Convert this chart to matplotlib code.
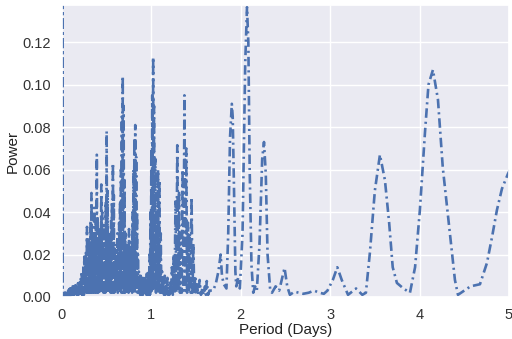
import matplotlib
matplotlib.use("Agg")
import matplotlib.pyplot as plt
import seaborn as sns

# ---- data (period in days, power) ----
# dense, short-period part: alternating local maxima / minima
short_period = [
    0.001, 0.0015, 0.002, 0.0025, 0.003, 0.0035, 0.004, 0.0045,
    0.010, 0.015, 0.020, 0.025, 0.030, 0.035, 0.040, 0.045, 0.050, 0.055,
    0.060, 0.065, 0.070, 0.075, 0.080, 0.085, 0.090, 0.095, 0.100, 0.105,
    0.110, 0.115, 0.120, 0.125, 0.130, 0.135, 0.140, 0.145, 0.150, 0.155,
    0.160, 0.165, 0.170, 0.175, 0.180, 0.185, 0.190, 0.195,
]
short_power = [
    0.150, 0.0, 0.147, 0.0, 0.153, 0.0, 0.149, 0.0,
    0.001, 0.0, 0.0015, 0.0, 0.002, 0.0, 0.002, 0.0, 0.0025, 0.0,
    0.003, 0.0005, 0.003, 0.0005, 0.0035, 0.0005, 0.004, 0.0005, 0.004, 0.001,
    0.0045, 0.001, 0.005, 0.001, 0.005, 0.001, 0.0055, 0.001, 0.0055, 0.001,
    0.006, 0.001, 0.006, 0.001, 0.0065, 0.001, 0.007, 0.001,
]

dense_period = [
    0.200, 0.205, 0.210, 0.215, 0.220, 0.225, 0.230, 0.235, 0.240, 0.245,
    0.250, 0.255, 0.260, 0.265, 0.270, 0.275, 0.280, 0.285, 0.290, 0.295,
    0.300, 0.305, 0.310, 0.315, 0.320, 0.325, 0.330, 0.335, 0.340, 0.345,
    0.350, 0.355, 0.360, 0.365, 0.370, 0.375, 0.380, 0.385, 0.390, 0.395,
    0.400, 0.405, 0.410, 0.415, 0.420, 0.425, 0.430, 0.435, 0.440, 0.445,
    0.450, 0.455, 0.460, 0.465, 0.470, 0.475, 0.480, 0.485, 0.490, 0.495,
    0.500, 0.505, 0.510, 0.515, 0.520, 0.525, 0.530, 0.535, 0.540, 0.545,
    0.550, 0.555, 0.560, 0.565, 0.570, 0.575, 0.580, 0.585, 0.590, 0.595,
    0.600, 0.605, 0.610, 0.615, 0.620, 0.625, 0.630, 0.635, 0.640, 0.645,
    0.650, 0.655, 0.660, 0.665, 0.670, 0.675, 0.680, 0.685, 0.690, 0.695,
    0.700, 0.705, 0.710, 0.715, 0.720, 0.725, 0.730, 0.735, 0.740, 0.745,
    0.750, 0.755, 0.760, 0.765, 0.770, 0.775, 0.780, 0.785, 0.790, 0.795,
    0.800, 0.805, 0.810, 0.815, 0.820, 0.825, 0.830, 0.835, 0.840, 0.845,
    0.850, 0.855, 0.860, 0.865, 0.870, 0.875, 0.880, 0.885, 0.890, 0.895,
    0.900, 0.905, 0.910, 0.915, 0.920, 0.925, 0.930, 0.935, 0.940, 0.945,
    0.950, 0.955, 0.960, 0.965, 0.970, 0.975, 0.980, 0.985, 0.990, 0.995,
]
dense_power = [
    0.007, 0.001, 0.009, 0.001, 0.012, 0.001, 0.010, 0.001, 0.015, 0.001,
    0.019, 0.002, 0.014, 0.001, 0.022, 0.002, 0.033, 0.002, 0.020, 0.002,
    0.028, 0.002, 0.024, 0.003, 0.036, 0.002, 0.049, 0.003, 0.030, 0.002,
    0.026, 0.003, 0.042, 0.002, 0.028, 0.003, 0.035, 0.002, 0.067, 0.003,
    0.038, 0.002, 0.025, 0.003, 0.033, 0.002, 0.030, 0.003, 0.053, 0.002,
    0.040, 0.003, 0.026, 0.002, 0.034, 0.003, 0.022, 0.002, 0.045, 0.003,
    0.078, 0.002, 0.050, 0.003, 0.024, 0.002, 0.030, 0.003, 0.020, 0.002,
    0.036, 0.003, 0.045, 0.002, 0.063, 0.003, 0.048, 0.002, 0.025, 0.003,
    0.018, 0.002, 0.022, 0.003, 0.030, 0.002, 0.026, 0.003, 0.035, 0.002,
    0.045, 0.003, 0.060, 0.002, 0.085, 0.003, 0.104, 0.002, 0.090, 0.003,
    0.055, 0.002, 0.030, 0.003, 0.018, 0.002, 0.025, 0.003, 0.020, 0.002,
    0.032, 0.003, 0.022, 0.002, 0.018, 0.003, 0.026, 0.002, 0.040, 0.003,
    0.060, 0.002, 0.075, 0.003, 0.081, 0.002, 0.066, 0.003, 0.040, 0.002,
    0.020, 0.002, 0.012, 0.001, 0.008, 0.001, 0.010, 0.001, 0.006, 0.001,
    0.009, 0.001, 0.007, 0.001, 0.010, 0.001, 0.006, 0.001, 0.008, 0.001,
    0.011, 0.001, 0.007, 0.001, 0.012, 0.001, 0.020, 0.001, 0.040, 0.002,
]

mid_period = [
    1.000, 1.005, 1.010, 1.015, 1.020, 1.025, 1.030, 1.037, 1.045, 1.052,
    1.060, 1.067, 1.075, 1.082, 1.090, 1.097, 1.105, 1.112, 1.120, 1.127,
    1.135, 1.142, 1.150, 1.157, 1.165, 1.172, 1.180, 1.187, 1.195, 1.202,
    1.210, 1.220, 1.230, 1.240, 1.250, 1.260, 1.270, 1.280, 1.290, 1.300,
    1.310, 1.320, 1.330, 1.340, 1.350, 1.360, 1.370, 1.380, 1.390, 1.400,
    1.410, 1.420, 1.430, 1.440, 1.450, 1.460, 1.470, 1.480, 1.490, 1.500,
    1.510, 1.525, 1.540, 1.555, 1.570, 1.585, 1.600, 1.610, 1.620, 1.635,
    1.650,
]
mid_power = [
    0.070, 0.003, 0.095, 0.004, 0.113, 0.004, 0.090, 0.003, 0.065, 0.002,
    0.040, 0.003, 0.060, 0.002, 0.055, 0.002, 0.030, 0.001, 0.012, 0.001,
    0.008, 0.001, 0.010, 0.001, 0.006, 0.001, 0.009, 0.001, 0.005, 0.001,
    0.008, 0.001, 0.014, 0.001, 0.020, 0.002, 0.045, 0.002, 0.0715, 0.003,
    0.050, 0.002, 0.030, 0.002, 0.060, 0.003, 0.095, 0.003, 0.070, 0.002,
    0.035, 0.002, 0.030, 0.002, 0.047, 0.002, 0.025, 0.001, 0.010, 0.001,
    0.006, 0.001, 0.008, 0.001, 0.004, 0.001, 0.005, 0.001, 0.0075, 0.001,
    0.003,
]

long_period = [
    1.69, 1.72, 1.75, 1.775, 1.79, 1.81, 1.84, 1.86, 1.88, 1.90,
    1.91, 1.925, 1.94, 1.95, 1.97, 1.99, 2.02, 2.05, 2.07, 2.085,
    2.10, 2.12, 2.14, 2.16, 2.18, 2.21, 2.24, 2.26, 2.28, 2.30,
    2.33, 2.35, 2.39, 2.43, 2.47, 2.49, 2.52, 2.55, 2.60, 2.65,
    2.70, 2.76, 2.82, 2.88, 2.93, 2.97, 3.03, 3.08, 3.13, 3.20,
    3.29, 3.36, 3.40, 3.445, 3.50, 3.557, 3.613, 3.66, 3.70, 3.747,
    3.82, 3.893, 3.95, 4.004, 4.06, 4.10, 4.15, 4.206, 4.26, 4.34,
    4.396, 4.43, 4.50, 4.57, 4.676, 4.754, 4.81, 4.866, 4.922, 4.989,
    5.05,
]
long_power = [
    0.003, 0.006, 0.012, 0.020, 0.010, 0.006, 0.004, 0.030, 0.075, 0.091,
    0.085, 0.050, 0.012, 0.005, 0.009, 0.004, 0.030, 0.110, 0.1365, 0.120,
    0.060, 0.015, 0.002, 0.005, 0.003, 0.025, 0.065, 0.073, 0.058, 0.020,
    0.003, 0.002, 0.005, 0.003, 0.010, 0.0137, 0.005, 0.001, 0.0025, 0.002,
    0.0015, 0.002, 0.003, 0.002, 0.0015, 0.003, 0.008, 0.014, 0.008, 0.001,
    0.004, 0.001, 0.002, 0.021, 0.050, 0.067, 0.055, 0.035, 0.014, 0.0066,
    0.004, 0.002, 0.014, 0.041, 0.077, 0.100, 0.107, 0.093, 0.061, 0.030,
    0.008, 0.001, 0.003, 0.005, 0.006, 0.016, 0.028, 0.041, 0.051, 0.058,
    0.063,
]

x_ticks = [0, 1, 2, 3, 4, 5]
y_ticks = [0.00, 0.02, 0.04, 0.06, 0.08, 0.10, 0.12]

period = short_period + dense_period + mid_period + long_period
power = short_power + dense_power + mid_power + long_power

sns.set_theme(style="darkgrid")
plt.rcParams['font.family'] = ['Liberation Sans', 'DejaVu Sans']

fig = plt.figure(figsize=(5.12, 3.39), dpi=100)
ax = fig.add_axes([0.121, 0.124, 0.873, 0.861])
ax.plot(period, power, linestyle='-.', color='#4c72b0', linewidth=1.9,
        dashes=[3.6, 1.5, 0.8, 1.5])
ax.set_xlim(0, 5)
ax.set_ylim(0, 0.1375)
ax.set_xticks(x_ticks)
ax.set_yticks(y_ticks)
ax.set_yticklabels([f"{v:.2f}" for v in y_ticks])
ax.tick_params(labelsize=10.5, pad=2, labelcolor='#333333')
ax.set_xlabel("Period (Days)", fontsize=11, labelpad=1, color='#222222')
ax.set_ylabel("Power", fontsize=11, labelpad=2, color='#222222')
fig.savefig("out.png", dpi=100)
